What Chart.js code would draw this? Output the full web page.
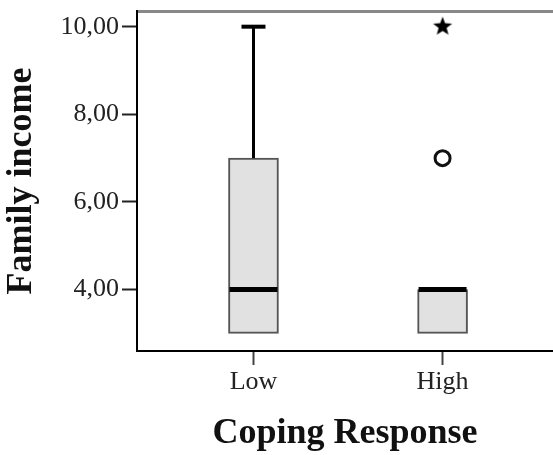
<!DOCTYPE html>
<html>
<head>
<meta charset="utf-8">
<script src="https://cdn.jsdelivr.net/npm/chart.js@4"></script>
<style>
  body { margin: 0; background: #fff; overflow: hidden; }
</style>
</head>
<body>
<canvas id="myGraph" width="553" height="455"></canvas>
<script>
// Boxplot: family income by coping response

var categories = ["Low", "High"];
var q1 = [3, 3];
var median = [4, 4];
var q3 = [7, 4];
var whiskerLow = [3, 3];
var whiskerHigh = [10, 4];
var outliers = [[], [7]];   // drawn as circles
var extremes = [[], [10]];  // drawn as stars
var yTicks = [4, 6, 8, 10];

var serif = "'Liberation Serif', 'Times New Roman', serif";

// filled five point star for extreme values
function makeStar(r) {
  var c = document.createElement("canvas");
  c.width = c.height = r * 2 + 2;
  var g = c.getContext("2d");
  g.translate(r + 1, r + 1);
  g.beginPath();
  for (var i = 0; i < 10; i++) {
    var rad = i % 2 == 0 ? r : r * 0.42;
    var a = -Math.PI / 2 + i * Math.PI / 5;
    g.lineTo(Math.cos(a) * rad, Math.sin(a) * rad);
  }
  g.closePath();
  g.fillStyle = "#000";
  g.fill();
  return c;
}

var datasets = [];

datasets.push({
  type: "bar",
  data: categories.map((c, i) => ({ x: i + 1, y: [q1[i], q3[i]] })),
  backgroundColor: "#e1e1e1",
  borderColor: "#555",
  borderWidth: 2,
  borderSkipped: false,
  barThickness: 50,
  order: 5
});

// whiskers and caps
for (var i = 0; i < categories.length; i++) {
  if (whiskerHigh[i] > q3[i]) {
    datasets.push({
      type: "scatter", showLine: true,
      data: [{ x: i + 1, y: q3[i] }, { x: i + 1, y: whiskerHigh[i] }],
      borderColor: "#000", borderWidth: 3, pointRadius: 0, order: 3
    });
    datasets.push({
      type: "scatter",
      data: [{ x: i + 1, y: whiskerHigh[i] }],
      pointStyle: "line", pointRadius: 12, borderColor: "#000", borderWidth: 4, order: 3
    });
  }
  if (whiskerLow[i] < q1[i]) {
    datasets.push({
      type: "scatter", showLine: true,
      data: [{ x: i + 1, y: q1[i] }, { x: i + 1, y: whiskerLow[i] }],
      borderColor: "#000", borderWidth: 3, pointRadius: 0, order: 3
    });
    datasets.push({
      type: "scatter",
      data: [{ x: i + 1, y: whiskerLow[i] }],
      pointStyle: "line", pointRadius: 12, borderColor: "#000", borderWidth: 4, order: 3
    });
  }
}

// medians
datasets.push({
  type: "scatter",
  data: categories.map((c, i) => ({ x: i + 1, y: median[i] })),
  pointStyle: "line", pointRadius: 24, borderColor: "#000", borderWidth: 5, order: 1
});

var outPts = [], extPts = [];
for (var i = 0; i < categories.length; i++) {
  outliers[i].forEach(v => outPts.push({ x: i + 1, y: v }));
  extremes[i].forEach(v => extPts.push({ x: i + 1, y: v }));
}

datasets.push({
  type: "scatter", data: outPts,
  pointStyle: "circle", pointRadius: 7.5, borderWidth: 3,
  borderColor: "#111", backgroundColor: "#fff", order: 0
});
datasets.push({
  type: "scatter", data: extPts,
  pointStyle: makeStar(10), pointRadius: 10, order: 0
});

var graph = document.getElementById("myGraph").getContext("2d");

new Chart(graph, {
  type: "scatter",
  data: { datasets: datasets },
  options: {
    responsive: false,
    animation: false,
    events: [],
    layout: { padding: 0, autoPadding: false },
    plugins: { legend: { display: false }, tooltip: { enabled: false } },
    scales: {
      x: {
        type: "linear",
        position: "bottom",
        min: 0.384,
        max: 2.584,
        offset: false,
        afterBuildTicks: s => { s.ticks = categories.map((c, i) => ({ value: i + 1 })); },
        afterFit: s => { s.height = 104; s.paddingLeft = 0; s.paddingRight = 0; },
        ticks: {
          callback: v => categories[v - 1],
          font: { family: serif, size: 26 },
          color: "#222",
          padding: 2,
          maxRotation: 0
        },
        grid: { drawOnChartArea: false, offset: false, tickLength: 14, tickWidth: 2, tickColor: "#444" },
        border: { color: "#000", width: 2 },
        title: {
          display: true,
          text: "Coping Response",
          font: { family: serif, size: 36, weight: "bold" },
          color: "#111",
          padding: 0
        }
      },
      top: {
        type: "linear",
        position: "top",
        axis: "x",
        min: 0,
        max: 1,
        afterFit: s => { s.height = 11; },
        ticks: { display: false },
        grid: { drawOnChartArea: false, drawTicks: false },
        border: { color: "#888", width: 3 }
      },
      y: {
        type: "linear",
        min: 2.598,
        max: 10.358,
        afterBuildTicks: s => { s.ticks = yTicks.map(v => ({ value: v })); },
        afterFit: s => { s.width = 137; s.paddingTop = 0; s.paddingBottom = 0; },
        ticks: {
          callback: v => v.toFixed(2).replace(".", ","),
          font: { family: serif, size: 26 },
          color: "#222",
          padding: 3
        },
        grid: { drawOnChartArea: false, tickLength: 15, tickWidth: 2, tickColor: "#222" },
        border: { color: "#000", width: 2 },
        title: {
          display: true,
          text: "Family income",
          font: { family: serif, size: 36, weight: "bold" },
          color: "#111",
          padding: 0
        }
      }
    }
  }
});
</script>
</body>
</html>
